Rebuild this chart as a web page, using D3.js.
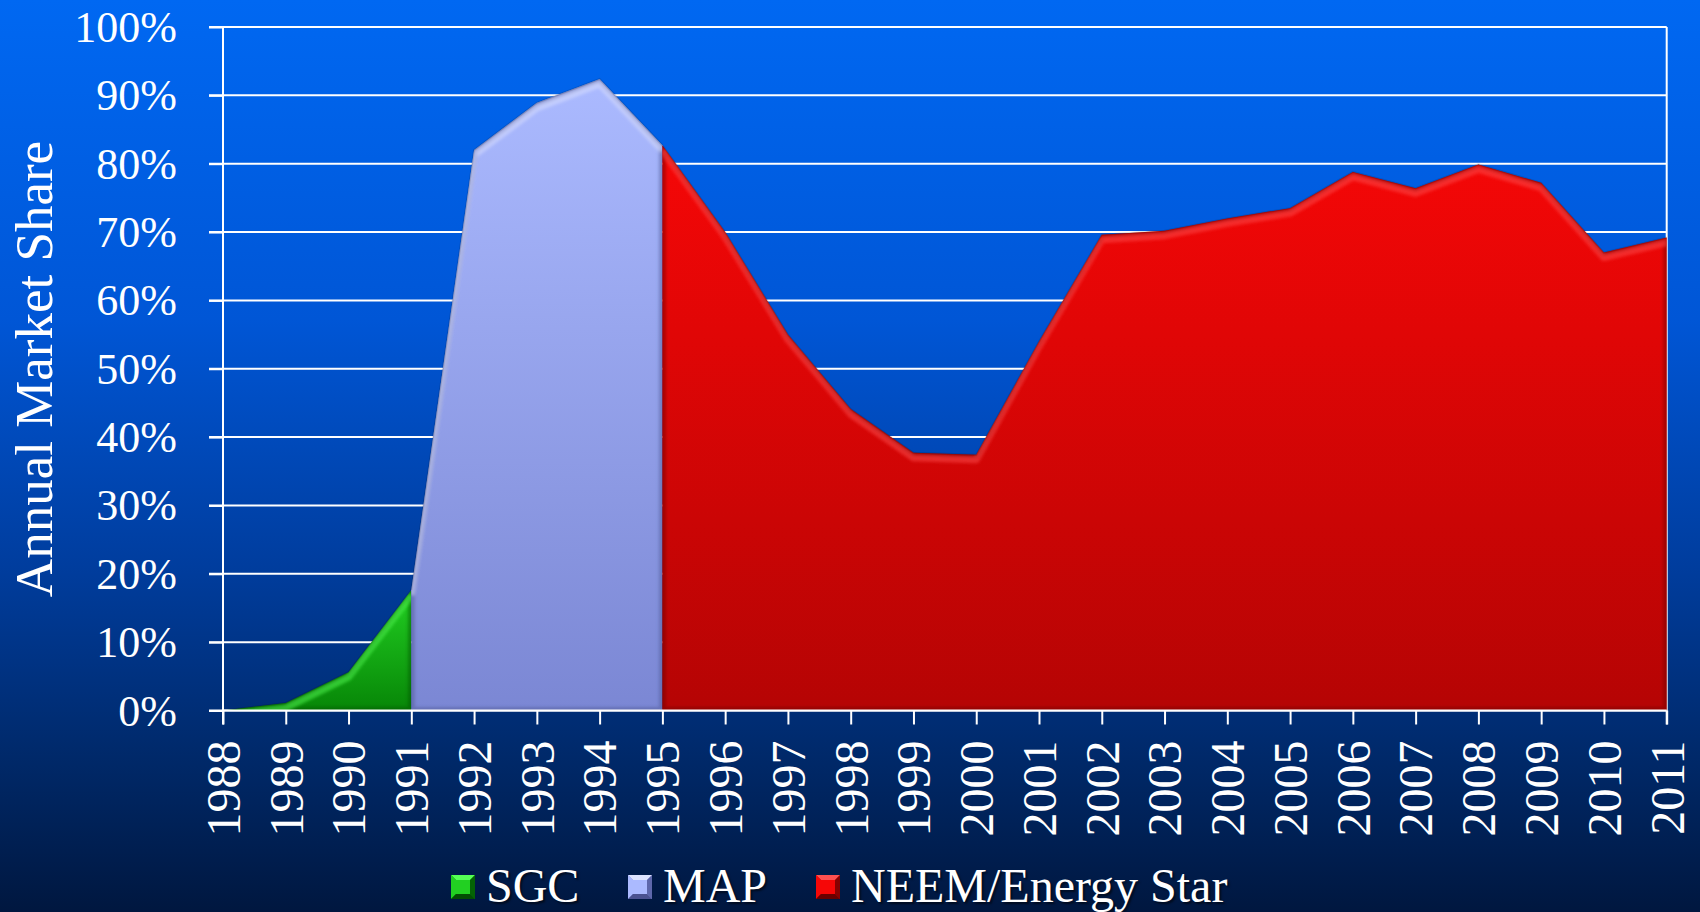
<!DOCTYPE html>
<html lang="en">
  <head>
    <meta charset="utf-8">
    <title>Annual Market Share</title>
    <script type="text/javascript" src="https://cdn.jsdelivr.net/npm/d3@7"></script>
    <style type="text/css">
      body { margin: 0; background: #001840; }
      text { font-family: "Liberation Serif", "Times New Roman", serif; fill: #fff; }
      .axis path, .axis line { stroke: #fff; stroke-width: 2; }
      .legend text { text-shadow: 2px 2px 2px rgba(0,0,0,0.55); }
    </style>
  </head>
  <body>
  <script type="text/javascript">

    const years = ["1988","1989","1990","1991","1992","1993","1994","1995","1996","1997","1998","1999",
                   "2000","2001","2002","2003","2004","2005","2006","2007","2008","2009","2010","2011"];
    const sgc  = [0, 1.1, 5.6, 17.6, null, null, null, null, null, null, null, null,
                  null, null, null, null, null, null, null, null, null, null, null, null];
    const map  = [null, null, null, 17.6, 82.0, 88.9, 92.4, 82.7, null, null, null, null,
                  null, null, null, null, null, null, null, null, null, null, null, null];
    const neem = [null, null, null, null, null, null, null, 82.7, 70.0, 55.0, 44.1, 37.7,
                  37.4, 54.0, 69.6, 70.2, 72.0, 73.5, 78.8, 76.4, 79.9, 77.2, 67.0, 69.2];
    const yTicks = [0, 10, 20, 30, 40, 50, 60, 70, 80, 90, 100];
    const seriesNames = ["SGC", "MAP", "NEEM/Energy Star"];

    const w = 1700;
    const h = 912;
    const margin = {top: 27, right: 33.3, bottom: 201.5, left: 223};

    const series = [
      {name: seriesNames[0], values: sgc,  top: "#22d022", bottom: "#078607", light: "#55ff55", dark: "#034d03"},
      {name: seriesNames[1], values: map,  top: "#abbaff", bottom: "#7b87d4", light: "#dde4ff", dark: "#4a5290"},
      {name: seriesNames[2], values: neem, top: "#f60707", bottom: "#b50404", light: "#ff5050", dark: "#6a0000"}
    ];

    const svg = d3.select("body")
                  .append("svg")
                  .attr("width", w)
                  .attr("height", h);

    const defs = svg.append("defs");

    const bg = defs.append("linearGradient")
                   .attr("id", "bg")
                   .attr("x1", 0).attr("y1", 0).attr("x2", 0).attr("y2", 1);
    [["0%", "#0068f2"], ["35%", "#0056d6"], ["62%", "#003d9e"], ["82%", "#002a6c"], ["100%", "#00173f"]]
      .forEach(s => bg.append("stop").attr("offset", s[0]).attr("stop-color", s[1]));

    defs.append("filter")
        .attr("id", "soft")
        .append("feGaussianBlur")
        .attr("stdDeviation", 1.6);

    svg.append("rect")
       .attr("width", w)
       .attr("height", h)
       .attr("fill", "url(#bg)");

    const xScale = d3.scalePoint()
                     .domain(years)
                     .range([margin.left, w - margin.right]);

    const yScale = d3.scaleLinear()
                     .domain([0, 100])
                     .range([h - margin.bottom, margin.top]);

    // gridlines
    svg.append("g")
       .selectAll("line")
       .data(yTicks)
       .enter()
       .append("line")
       .attr("x1", margin.left - 14)
       .attr("x2", w - margin.right)
       .attr("y1", d => yScale(d))
       .attr("y2", d => yScale(d))
       .attr("stroke", "#fff")
       .attr("stroke-width", 2);

    svg.append("line")
       .attr("x1", w - margin.right).attr("x2", w - margin.right)
       .attr("y1", yScale(100)).attr("y2", yScale(0) + 14)
       .attr("stroke", "#fff")
       .attr("stroke-width", 2);

    const rows = years.map((yr, i) => ({year: yr, i: i}));

    series.forEach((s, k) => {
      const g = defs.append("linearGradient")
                    .attr("id", "fill" + k)
                    .attr("x1", 0).attr("y1", 0).attr("x2", 0).attr("y2", 1);
      g.append("stop").attr("offset", "0%").attr("stop-color", s.top);
      g.append("stop").attr("offset", "100%").attr("stop-color", s.bottom);

      const pts = rows.filter(r => s.values[r.i] != null);
      const area = d3.area()
                     .x(r => xScale(r.year))
                     .y0(yScale(0))
                     .y1(r => yScale(s.values[r.i]));
      const line = d3.line()
                     .x(r => xScale(r.year))
                     .y(r => yScale(s.values[r.i]));

      defs.append("clipPath")
          .attr("id", "clip" + k)
          .append("path")
          .attr("d", area(pts));

      const grp = svg.append("g");
      grp.append("path")
         .attr("d", area(pts))
         .attr("fill", "url(#fill" + k + ")");

      const inner = grp.append("g").attr("clip-path", "url(#clip" + k + ")");
      inner.append("path")
           .attr("d", area(pts))
           .attr("fill", "none")
           .attr("stroke", s.dark)
           .attr("stroke-opacity", 0.45)
           .attr("stroke-width", 7)
           .attr("filter", "url(#soft)");
      inner.append("path")
           .attr("d", line(pts))
           .attr("transform", "translate(0,5)")
           .attr("fill", "none")
           .attr("stroke", s.light)
           .attr("stroke-opacity", 0.5)
           .attr("stroke-width", 7)
           .attr("stroke-linejoin", "round")
           .attr("filter", "url(#soft)");

      grp.append("path")
         .attr("d", line(pts))
         .attr("fill", "none")
         .attr("stroke", "#000")
         .attr("stroke-opacity", 0.12)
         .attr("stroke-width", 2);
    });

    // y axis
    const yAxis = d3.axisLeft(yScale)
                    .tickValues(yTicks)
                    .tickFormat(d => d + "%")
                    .tickSize(14)
                    .tickPadding(32);

    const ya = svg.append("g")
                  .attr("class", "axis")
                  .attr("transform", "translate(" + margin.left + ",0)")
                  .call(yAxis);
    ya.attr("font-family", null);
    ya.select(".domain").attr("d", "M0," + yScale(100) + "V" + (yScale(0) + 14));
    ya.selectAll("text")
      .style("font-size", "44px")
      .attr("dy", "0.33em");

    // x axis
    const xAxis = d3.axisBottom(xScale)
                    .tickSize(14)
                    .tickSizeOuter(0);

    const xa = svg.append("g")
                  .attr("class", "axis")
                  .attr("transform", "translate(0," + yScale(0) + ")")
                  .call(xAxis);
    xa.attr("font-family", null);
    xa.select(".domain").attr("d", "M" + margin.left + ",0H" + (w - margin.right));
    xa.selectAll("text")
      .style("font-size", "48px")
      .attr("text-anchor", "end")
      .attr("transform", "rotate(-90)")
      .attr("x", -30)
      .attr("y", 0)
      .attr("dy", "0.34em");

    // y axis title
    svg.append("text")
       .attr("transform", "translate(52," + 369 + ") rotate(-90)")
       .attr("text-anchor", "middle")
       .style("font-size", "53px")
       .text("Annual Market Share");

    // legend
    const legendX = [451, 628, 816];
    const legend = svg.append("g").attr("class", "legend");
    series.forEach((s, k) => {
      const lg = legend.append("g").attr("transform", "translate(" + legendX[k] + ",875)");
      const sz = 24;
      lg.append("rect").attr("width", sz).attr("height", sz).attr("fill", s.bottom);
      lg.append("path").attr("d", "M0,0H" + sz + "L" + (sz - 5) + ",5H5Z").attr("fill", s.light);
      lg.append("path").attr("d", "M0,0L5,5V" + (sz - 5) + "L0," + sz + "Z").attr("fill", s.top);
      lg.append("path").attr("d", "M" + sz + ",0V" + sz + "L" + (sz - 5) + "," + (sz - 5) + "V5Z").attr("fill", s.dark).attr("fill-opacity", 0.6);
      lg.append("path").attr("d", "M0," + sz + "H" + sz + "L" + (sz - 5) + "," + (sz - 5) + "H5Z").attr("fill", s.dark);
      lg.append("rect").attr("x", 5).attr("y", 5).attr("width", sz - 10).attr("height", sz - 10).attr("fill", s.top);
      lg.append("text")
        .attr("x", 35)
        .attr("y", 27)
        .style("font-size", "48px")
        .text(s.name);
    });

  </script>
  </body>
</html>
